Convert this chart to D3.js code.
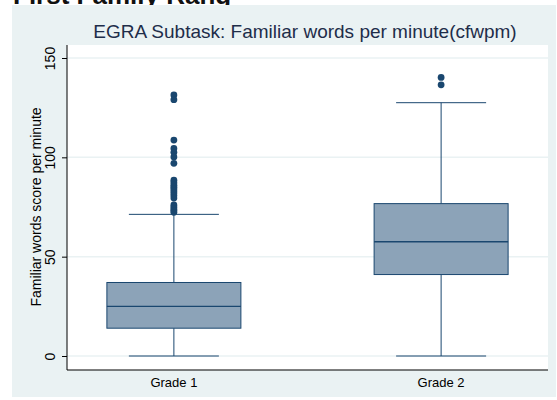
<!DOCTYPE html>
<html>
<head>
<meta charset="utf-8">
<script src="https://cdn.jsdelivr.net/npm/d3@7"></script>
<style>
  html, body { margin: 0; padding: 0; background: #ffffff; }
  svg { display: block; }
</style>
</head>
<body>
<svg id="chart" width="557" height="400"></svg>
<script>
// ---- data ----
const categories = ["Grade 1", "Grade 2"];
const lowerWhisker = [0, 0];
const q1 = [14, 41];
const median = [25, 57.5];
const q3 = [37, 76.7];
const upperWhisker = [71.3, 127.5];
const outliers = [
  [131.4, 129, 108.7, 104.5, 102.5, 100.2, 97, 88.5, 87.2, 86, 85, 84, 83, 82, 80.8, 79.5, 76, 75, 74, 73.2, 72.3],
  [140.2, 136.5]
];
const yTicks = [0, 50, 100, 150];
const title = "EGRA Subtask: Familiar words per minute(cfwpm)";
const yLabel = "Familiar words score per minute";

// ---- layout ----
const svg = d3.select("#chart");
const plot = { left: 67, right: 548, top: 45, bottom: 370 };
const navy = "#1a476f";
const boxFill = "#8ca3b8";
const bg = "#eaf2f3";
const font = "'Liberation Sans', Arial, sans-serif";

// cropped heading from the page above (only its lower edge shows)
svg.append("text")
  .attr("x", 13).attr("y", 4)
  .attr("font-family", font).attr("font-weight", "bold")
  .attr("font-size", 26).attr("fill", "#111")
  .text("First Family Rang");

svg.append("rect").attr("x", 12).attr("y", 5).attr("width", 544).attr("height", 392).attr("fill", bg);
svg.append("rect").attr("x", plot.left).attr("y", plot.top)
  .attr("width", plot.right - plot.left).attr("height", plot.bottom - plot.top).attr("fill", "#ffffff");

const y = d3.scaleLinear().domain([0, 150]).range([356, 58]);
const x = d3.scaleLinear().domain([0, 1]).range([plot.left, plot.right]);
const catPos = [2/9, 7/9];
const xc = c => x(catPos[categories.indexOf(c)]);
const boxW = 134, capW = 90;

// grid
svg.append("g").selectAll("line").data(yTicks).join("line")
  .attr("x1", plot.left).attr("x2", plot.right)
  .attr("y1", d => y(d)).attr("y2", d => y(d))
  .attr("stroke", bg).attr("stroke-width", 1.5);

// y axis
const yAxis = d3.axisLeft(y).tickValues(yTicks).tickSize(5);
const gy = svg.append("g").attr("transform", `translate(${plot.left},0)`).call(yAxis);
gy.select(".domain").remove();
gy.append("line").attr("x1", 0).attr("x2", 0).attr("y1", plot.top).attr("y2", plot.bottom).attr("stroke", "#000").attr("stroke-width", 1);
gy.selectAll(".tick line").attr("stroke", "#000");
gy.selectAll(".tick text")
  .attr("font-family", font).attr("font-size", 14).attr("fill", "#000")
  .attr("transform", "rotate(-90)")
  .attr("x", 0).attr("y", -12).attr("dy", 0)
  .attr("text-anchor", "middle");

// x axis
svg.append("line").attr("x1", plot.left).attr("x2", plot.right)
  .attr("y1", plot.bottom).attr("y2", plot.bottom).attr("stroke", "#000").attr("stroke-width", 1.2);
svg.append("g").selectAll("text").data(categories).join("text")
  .attr("x", d => xc(d)).attr("y", 387)
  .attr("text-anchor", "middle").attr("font-family", font).attr("font-size", 13).attr("fill", "#000")
  .text(d => d);

// boxes
const g = svg.append("g");
categories.forEach((c, i) => {
  const cx = xc(c);
  g.append("line").attr("x1", cx).attr("x2", cx).attr("y1", y(q3[i])).attr("y2", y(upperWhisker[i])).attr("stroke", navy).attr("stroke-width", 1);
  g.append("line").attr("x1", cx).attr("x2", cx).attr("y1", y(q1[i])).attr("y2", y(lowerWhisker[i])).attr("stroke", navy).attr("stroke-width", 1);
  g.append("line").attr("x1", cx - capW/2).attr("x2", cx + capW/2).attr("y1", y(upperWhisker[i])).attr("y2", y(upperWhisker[i])).attr("stroke", navy).attr("stroke-width", 1);
  g.append("line").attr("x1", cx - capW/2).attr("x2", cx + capW/2).attr("y1", y(lowerWhisker[i])).attr("y2", y(lowerWhisker[i])).attr("stroke", navy).attr("stroke-width", 1);
  g.append("rect").attr("x", cx - boxW/2).attr("width", boxW)
    .attr("y", y(q3[i])).attr("height", y(q1[i]) - y(q3[i]))
    .attr("fill", boxFill).attr("stroke", navy).attr("stroke-width", 1);
  g.append("line").attr("x1", cx - boxW/2).attr("x2", cx + boxW/2).attr("y1", y(median[i])).attr("y2", y(median[i])).attr("stroke", navy).attr("stroke-width", 1.3);
  g.append("g").selectAll("circle").data(outliers[i]).join("circle")
    .attr("cx", cx).attr("cy", d => y(d)).attr("r", 3.4).attr("fill", navy);
});

// title
svg.append("text").attr("x", 305).attr("y", 38).attr("text-anchor", "middle")
  .attr("font-family", font).attr("font-size", 19).attr("fill", "#1e2d4a").text(title);

// y label
svg.append("text").attr("transform", "translate(41,207) rotate(-90)")
  .attr("text-anchor", "middle").attr("font-family", font).attr("font-size", 14).attr("fill", "#000")
  .text(yLabel);
</script>
</body>
</html>
